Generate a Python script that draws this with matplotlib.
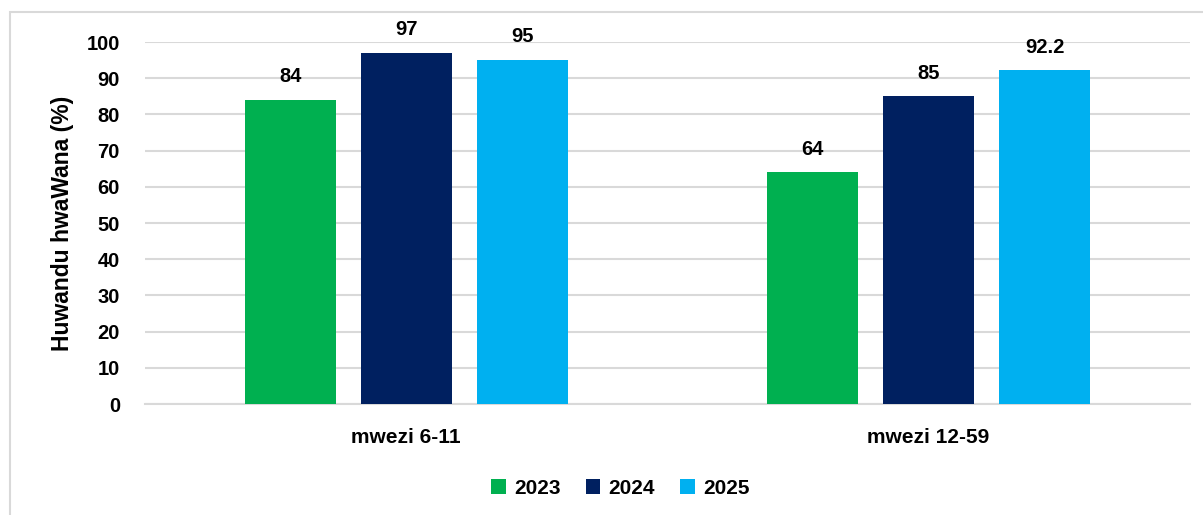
import numpy as np
import matplotlib.pyplot as plt
from matplotlib.patches import Rectangle

# data
groups = ['mwezi 6-11', 'mwezi 12-59']
years = ['2023', '2024', '2025']
v2023 = [84, 64]
v2024 = [97, 85]
v2025 = [95, 92.2]
colors = ['#00B050', '#002060', '#00B0F0']

plt.rcParams['font.family'] = ['Liberation Sans', 'DejaVu Sans']
plt.rcParams['font.weight'] = 'bold'

fig = plt.figure(figsize=(12.03, 5.15), dpi=100)
ax = fig.add_axes([0.1205, 0.2155, 0.8685, 0.7029])

# outer chart border
fig.add_artist(Rectangle((10 / 1203, -0.1), 1.2, 1 - 12 / 515 + 0.1,
                         transform=fig.transFigure, fill=False,
                         edgecolor='#d9d9d9', linewidth=1.5))

x = np.arange(len(groups))
w = 0.174
step = 0.222
series = [v2023, v2024, v2025]
for i, (vals, c, lab) in enumerate(zip(series, colors, years)):
    bars = ax.bar(x + (i - 1) * step, vals, width=w, color=c, label=lab, zorder=3)
    for b, v in zip(bars, vals):
        ax.text(b.get_x() + b.get_width() / 2, v + 3.8, f'{v:g}',
                ha='center', va='bottom', fontsize=14.5, fontweight='bold',
                clip_on=False)

ax.set_xlim(-0.5, 1.5)
ax.set_ylim(0, 100)
ax.set_yticks(range(0, 101, 10))
ax.yaxis.grid(True, color='#d9d9d9', linewidth=1.5, zorder=0)
ax.set_axisbelow(True)
for s in ['top', 'right', 'left']:
    ax.spines[s].set_visible(False)
ax.spines['bottom'].set_color('#d9d9d9')
ax.spines['bottom'].set_linewidth(1.5)
ax.tick_params(axis='both', length=0, labelsize=14.5)
ax.tick_params(axis='y', pad=18)
ax.tick_params(axis='x', pad=17)
ax.set_xticks(x)
ax.set_xticklabels(groups, fontsize=15, fontweight='bold')
ax.set_ylabel('Huwandu hwaWana (%)', fontsize=16.5, fontweight='bold', labelpad=9)

ax.legend(loc='upper center', bbox_to_anchor=(0.455, -0.155), ncol=3,
          frameon=False, fontsize=15, handlelength=0.7, handleheight=0.7,
          handletextpad=0.4, columnspacing=1.2)

fig.savefig('out.png', dpi=100)
